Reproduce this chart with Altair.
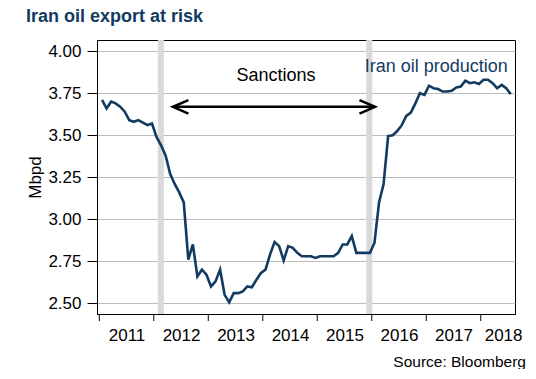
import altair as alt
import pandas as pd

# ---- text ----
title_text = "Iran oil export at risk"
y_title = "Mbpd"
source_text = "Source: Bloomberg"
series_label = "Iran oil production"
sanctions_label = "Sanctions"

# ---- data (monthly Iranian crude production, Mbpd) ----
years = [2011, 2012, 2013, 2014, 2015, 2016, 2017, 2018]
prod_2011 = [3.71, 3.66, 3.70, 3.69, 3.67, 3.64, 3.59, 3.58, 3.59, 3.575, 3.56, 3.57]
prod_2012 = [3.49, 3.44, 3.38, 3.27, 3.21, 3.16, 3.10, 2.76, 2.85, 2.66, 2.70, 2.67]
prod_2013 = [2.60, 2.63, 2.70, 2.55, 2.505, 2.56, 2.56, 2.57, 2.60, 2.595, 2.64, 2.68]
prod_2014 = [2.70, 2.79, 2.865, 2.84, 2.755, 2.84, 2.83, 2.80, 2.78, 2.78, 2.78, 2.77]
prod_2015 = [2.78, 2.78, 2.78, 2.78, 2.80, 2.85, 2.85, 2.90, 2.80, 2.80, 2.80, 2.80]
prod_2016 = [2.86, 3.10, 3.21, 3.495, 3.50, 3.525, 3.56, 3.615, 3.635, 3.69, 3.75, 3.74]
prod_2017 = [3.795, 3.78, 3.775, 3.76, 3.76, 3.765, 3.785, 3.79, 3.825, 3.81, 3.815, 3.805]
prod_2018 = [3.83, 3.83, 3.81, 3.78, 3.80, 3.78, 3.745]

sanction_marks = [2012.13, 2015.955]
arrow_from = 2012.35
arrow_to = 2016.06
arrow_level = 3.669
sanctions_pos = [2014.242, 3.825]
label_pos = [2017.183, 3.875]
year_label_pos = [2011.5, 2012.5, 2013.5, 2014.5, 2015.5, 2016.5, 2017.5, 2018.41]
y_ticks = [2.50, 2.75, 3.00, 3.25, 3.50, 3.75, 4.00]

rows = []
for yr, vals in zip(years, [prod_2011, prod_2012, prod_2013, prod_2014,
                            prod_2015, prod_2016, prod_2017, prod_2018]):
    for m, v in enumerate(vals):
        rows.append({"t": yr + (m + 0.6) / 12, "v": v})
df = pd.DataFrame(rows)

W, H = 418, 274
FONT = "Liberation Sans"
NAVY = "#133b61"

xscale = alt.Scale(domain=[2010.958, 2018.628], nice=False, zero=False)
yscale = alt.Scale(domain=[2.436, 4.067], nice=False, zero=False)

xaxis = alt.Axis(values=year_label_pos, labelExpr="'' + floor(datum.value)",
                 ticks=False, tickSize=0, grid=False, domainColor="black",
                 labelFont=FONT, labelFontSize=17, labelColor="black",
                 labelPadding=13, title=None, labelFlush=False, labelOverlap=False)
yaxis = alt.Axis(values=y_ticks, format=".2f", tickSize=10, tickColor="black",
                 labelPadding=6, grid=True, gridColor="#bdbdbd", gridWidth=1,
                 domainColor="black", labelFont=FONT, labelFontSize=17,
                 labelColor="black", title=y_title, titleFont=FONT,
                 titleFontSize=17, titleFontWeight="normal", titleColor="black",
                 titleAngle=270, titleX=-61.5, titleY=H / 2,
                 titleAlign="center", titleBaseline="middle")

bars = alt.Chart(pd.DataFrame({"t": sanction_marks})).mark_rule(
    color="#d9d9d9", strokeWidth=6
).encode(x=alt.X("t:Q", scale=xscale, axis=xaxis))

line = alt.Chart(df).mark_line(color=NAVY, strokeWidth=2.6).encode(
    x=alt.X("t:Q", scale=xscale, title=None),
    y=alt.Y("v:Q", scale=yscale, axis=yaxis),
)

year_ticks = alt.Chart(pd.DataFrame({"t": years})).mark_rule(
    color="black", strokeWidth=1
).encode(x=alt.X("t:Q", title=None), y=alt.value(H), y2=alt.value(H + 7))

arrow_df = pd.DataFrame({"a": [arrow_from], "b": [arrow_to], "v": [arrow_level]})
shaft = alt.Chart(arrow_df).mark_rule(color="black", strokeWidth=2.5).encode(
    x=alt.X("a:Q", title=None), x2="b:Q", y=alt.Y("v:Q", title=y_title)
)
head_left = alt.Chart(arrow_df).mark_point(
    shape="M 2 -0.86 L 0 0 L 2 0.86", size=243, filled=False,
    strokeWidth=2.5, color="black", opacity=1
).encode(x=alt.X("a:Q", title=None), y=alt.Y("v:Q", title=y_title))
head_right = alt.Chart(arrow_df).mark_point(
    shape="M -2 -0.86 L 0 0 L -2 0.86", size=243, filled=False,
    strokeWidth=2.5, color="black", opacity=1
).encode(x=alt.X("b:Q", title=None), y=alt.Y("v:Q", title=y_title))

sanc_text = alt.Chart(pd.DataFrame({"t": [sanctions_pos[0]], "v": [sanctions_pos[1]],
                                    "s": [sanctions_label]})).mark_text(
    font=FONT, fontSize=18, color="black", align="center", baseline="alphabetic"
).encode(x=alt.X("t:Q", title=None), y=alt.Y("v:Q", title=y_title), text="s:N")

series_text = alt.Chart(pd.DataFrame({"t": [label_pos[0]], "v": [label_pos[1]],
                                      "s": [series_label]})).mark_text(
    font=FONT, fontSize=18, color=NAVY, align="center", baseline="alphabetic"
).encode(x=alt.X("t:Q", title=None), y=alt.Y("v:Q", title=y_title), text="s:N")

source = alt.Chart(pd.DataFrame({"s": [source_text]})).mark_text(
    font=FONT, fontSize=15.5, color="black", align="right", baseline="alphabetic"
).encode(x=alt.value(429), y=alt.value(327), text="s:N")

title = alt.Chart(pd.DataFrame({"s": [title_text]})).mark_text(
    font=FONT, fontSize=18, fontWeight="bold", color=NAVY, align="left",
    baseline="alphabetic"
).encode(x=alt.value(-71), y=alt.value(-18), text="s:N")

chart = alt.layer(
    bars, line, year_ticks, shaft, head_left, head_right, sanc_text, series_text,
    source, title
).properties(
    width=W, height=H,
    padding={"left": 89, "top": 32, "right": 13, "bottom": 55},
    autosize=alt.AutoSizeParams(type="none"),
).configure_view(stroke="black", strokeWidth=1)

chart.save("out.html", embed_options={"renderer": "svg", "actions": False})
